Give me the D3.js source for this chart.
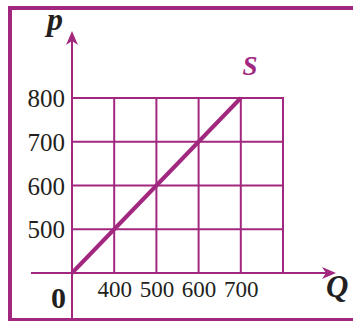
<!DOCTYPE html>
<html lang="en">
<head>
  <meta charset="UTF-8" />
  <title>Supply line S</title>
  <style>
    body { margin: 0; padding: 0; background: #fff; }
    svg { display: block; }
    .tick text { font-family: "Liberation Serif", "Times New Roman", serif; fill: #231f20; }
    .lbl { font-family: "Liberation Serif", "Times New Roman", serif; font-weight: bold; }
  </style>
  <script src="https://d3js.org/d3.v7.min.js"></script>
</head>
<body>
<svg id="chart" width="353" height="321"></svg>

<script>
// broken axes: the origin stands for Q=300, p=400 (labelled 0)
const qTicks = [400, 500, 600, 700];
const pTicks = [500, 600, 700, 800];
const qGrid = [400, 500, 600, 700, 800];
const pGrid = [500, 600, 700, 800];
const sQ = [300, 400, 500, 600, 700];
const sP = [400, 500, 600, 700, 800];

const col = "#a2287f";
const svg = d3.select("#chart");

const x = d3.scaleLinear().domain([300, 800]).range([72, 283]);
const y = d3.scaleLinear().domain([400, 800]).range([273, 98]);

// frame
svg.append("line").attr("x1", 10).attr("x2", 353).attr("y1", 8).attr("y2", 8)
  .attr("stroke", col).attr("stroke-width", 4);
svg.append("line").attr("x1", 10).attr("x2", 10).attr("y1", 6).attr("y2", 321)
  .attr("stroke", col).attr("stroke-width", 4);
svg.append("line").attr("x1", 8).attr("x2", 353).attr("y1", 319.5).attr("y2", 319.5)
  .attr("stroke", col).attr("stroke-width", 3);

// grid
svg.append("g").selectAll("line").data(qGrid).join("line")
  .attr("x1", d => x(d)).attr("x2", d => x(d))
  .attr("y1", y(400)).attr("y2", y(800) - 1)
  .attr("stroke", col).attr("stroke-width", 2);
svg.append("g").selectAll("line").data(pGrid).join("line")
  .attr("x1", x(300)).attr("x2", x(800) + 1)
  .attr("y1", d => y(d)).attr("y2", d => y(d))
  .attr("stroke", col).attr("stroke-width", 2);

// axes with arrows
svg.append("line").attr("x1", x(300)).attr("x2", x(300)).attr("y1", 319).attr("y2", 40)
  .attr("stroke", col).attr("stroke-width", 2);
svg.append("line").attr("x1", 31).attr("x2", 326).attr("y1", y(400)).attr("y2", y(400))
  .attr("stroke", col).attr("stroke-width", 2);

function arrow(tx, ty, ang) {
  svg.append("path")
    .attr("d", "M0,0 L-14,-6 L-10,0 L-14,6 Z")
    .attr("transform", `translate(${tx},${ty}) rotate(${ang})`)
    .attr("fill", col);
}
arrow(x(300), 31, -90);
arrow(336, y(400), 0);

// tick labels
const yAxis = svg.append("g")
  .attr("transform", `translate(${x(300)},0)`)
  .call(d3.axisLeft(y).tickValues(pTicks).tickSize(0).tickPadding(7));
yAxis.select(".domain").remove();
yAxis.selectAll(".tick text").attr("font-size", 25).attr("dy", "0.34em");

const xAxis = svg.append("g")
  .attr("transform", `translate(0,${y(400)})`)
  .call(d3.axisBottom(x).tickValues(qTicks).tickSize(0).tickPadding(0));
xAxis.select(".domain").remove();
xAxis.selectAll(".tick text").attr("font-size", 23).attr("dy", 0).attr("y", 24);

// origin, axis names
svg.append("text").attr("class", "lbl").attr("x", 66).attr("y", 308)
  .attr("text-anchor", "end").attr("font-size", 30).attr("fill", "#231f20").text("0");
svg.append("text").attr("class", "lbl").attr("x", 47).attr("y", 30)
  .attr("font-style", "italic").attr("font-size", 32).attr("fill", "#231f20").text("p");
svg.append("text").attr("class", "lbl").attr("x", 326).attr("y", 297)
  .attr("font-style", "italic").attr("font-size", 31).attr("fill", "#231f20").text("Q");

// supply line
const pts = sQ.map((q, i) => [q, sP[i]]);
svg.append("path").datum(pts)
  .attr("fill", "none").attr("stroke", col).attr("stroke-width", 4)
  .attr("d", d3.line().x(d => x(d[0])).y(d => y(d[1])));
svg.append("text").attr("class", "lbl").attr("x", 250).attr("y", 75)
  .attr("text-anchor", "middle").attr("font-style", "italic").attr("font-size", 27)
  .attr("fill", col).text("S");
</script>
</body>
</html>
